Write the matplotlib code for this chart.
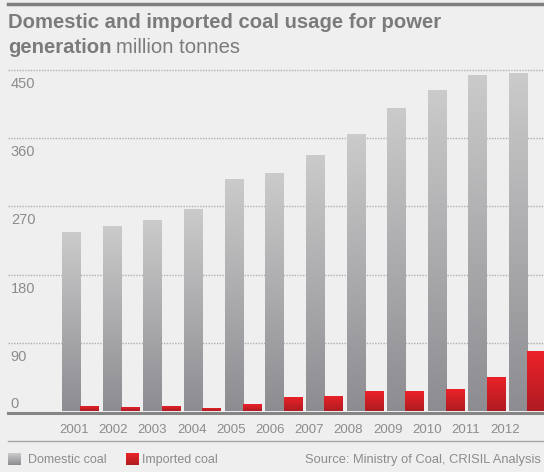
# -*- coding:UTF-8 -*-
# Domestic and imported coal usage for power generation (million tonnes)
import numpy as np
import matplotlib.pyplot as plt
from matplotlib.colors import LinearSegmentedColormap
from matplotlib.lines import Line2D

# ---------------------------------------------------#
# data
# ---------------------------------------------------#
years = ["2001", "2002", "2003", "2004", "2005", "2006",
         "2007", "2008", "2009", "2010", "2011", "2012"]
domestic = [236, 244, 252, 267, 306, 314, 338, 365, 400, 423, 444, 446]
imported = [6.6, 5.3, 6.6, 4, 9, 18.5, 20, 26, 26, 29, 45, 79]
y_ticks = [90, 180, 270, 360, 450]

# ---------------------------------------------------#
# style
# ---------------------------------------------------#
plt.rcParams["font.family"] = ["Liberation Sans", "DejaVu Sans"]
bg = "#efefef"
txt = "#8c8c8c"
cm_grey = LinearSegmentedColormap.from_list("g", ["#8d8c91", "#cbcbcb"])
cm_red = LinearSegmentedColormap.from_list("r", ["#ae1c22", "#ec2228"])
grad = np.linspace(0, 1, 256).reshape(-1, 1)

W, H = 544, 472
fig = plt.figure(figsize=(W / 100, H / 100), dpi=100, facecolor=bg)


def fx(px):
    return px / W


def fy(py):
    return 1 - py / H


# plot area: value 0 at y=411 px, 450 at y=70 px
y0_px, y450_px = 411, 70
ymax = 460
scale = (y0_px - y450_px) / 450
ax = fig.add_axes([fx(8), fy(y0_px), fx(544) - fx(8), (ymax * scale) / H])
ax.set_facecolor(bg)
for s in ax.spines.values():
    s.set_visible(False)
ax.set_xticks([])
ax.set_yticks([])

# gridlines and y labels
for v in y_ticks:
    ax.axhline(v, color="#b0b0b0", lw=1.0, ls=(0, (1, 1)), zorder=0)
    ax.annotate(str(v), xy=(0, v), xycoords=("axes fraction", "data"),
                xytext=(2, -13), textcoords="offset points",
                ha="left", va="baseline", fontsize=10.5, color=txt)
ax.annotate("0", xy=(0, 0), xycoords=("axes fraction", "data"),
            xytext=(2, 2.5), textcoords="offset points",
            ha="left", va="baseline", fontsize=10.5, color=txt)

# bars with vertical gradients
x = np.arange(len(years))
w = 0.45
bars_d = ax.bar(x - w / 2, domestic, width=w, color="none", zorder=2)
bars_i = ax.bar(x + w / 2, imported, width=w, color="none", zorder=2)
for bars, cm in [(bars_d, cm_grey), (bars_i, cm_red)]:
    for b in bars:
        x0, h = b.get_x(), b.get_height()
        im = ax.imshow(grad, cmap=cm, origin="lower", aspect="auto",
                       extent=[x0, x0 + b.get_width(), 0, h], zorder=2)
        im.set_clip_path(b)
ax.set_xlim(-1.78, 11.41)
ax.set_ylim(0, ymax)

# baseline
fig.add_artist(Line2D([fx(8), 1], [fy(413), fy(413)], color="#858585", lw=2.2))

# year labels
for i, yr in enumerate(years):
    fig.text(fx(74 + 39.2 * i), fy(433), yr, ha="center", va="baseline",
             fontsize=9.5, color=txt)

# thin separator line
fig.add_artist(Line2D([fx(8), 1], [fy(441), fy(441)], color="#a5a5a5", lw=1.0))

# top rule
fig.add_artist(Line2D([fx(8), 1], [fy(3.5), fy(3.5)], color="#7f7f7f", lw=2.5))

# title
title_col = "#7b7b7b"
fig.text(fx(8), fy(28), "Domestic and imported coal usage for power",
         ha="left", va="baseline", fontsize=14.6, fontweight="bold", color=title_col)
t2 = fig.text(fx(8), fy(53), "generation", ha="left", va="baseline",
              fontsize=14.6, fontweight="bold", color=title_col)
r = fig.canvas.get_renderer()
x_end = t2.get_window_extent(r).x1
fig.text(fx(x_end + 5), fy(53), "million tonnes", ha="left", va="baseline",
         fontsize=14.6, color=title_col)

# legend
for px0, dx, cm, label in [(8, 20, cm_grey, "Domestic coal"),
                           (126, 16, cm_red, "Imported coal")]:
    lax = fig.add_axes([fx(px0), fy(465), fx(13), 12 / H])
    lax.imshow(grad, cmap=cm, origin="lower", aspect="auto")
    lax.set_axis_off()
    fig.text(fx(px0 + dx), fy(463), label, ha="left", va="baseline",
             fontsize=9, color=txt)
fig.text(fx(305), fy(463), "Source: Ministry of Coal, CRISIL Analysis",
         ha="left", va="baseline", fontsize=9.3, color=txt)

fig.savefig("out.png", dpi=100, facecolor=bg)
